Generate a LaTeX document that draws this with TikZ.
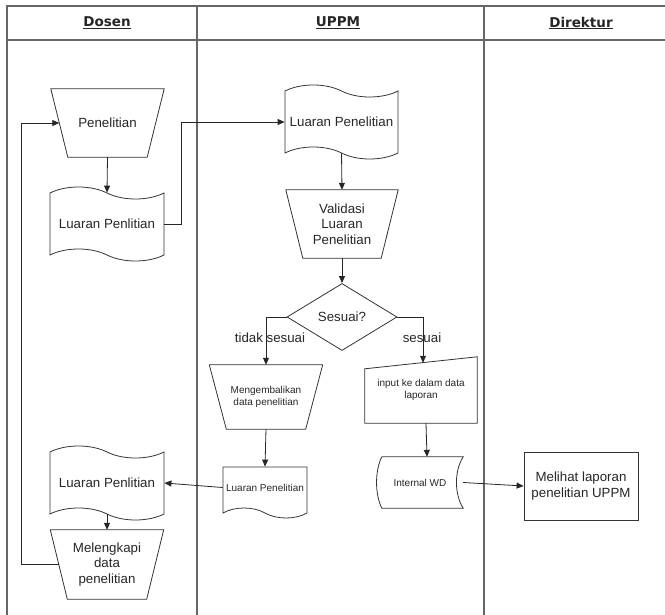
\documentclass[tikz,border=0pt]{standalone}
\usepackage{fontspec}
\setmainfont{Liberation Sans}
\newfontfamily\headfont{DejaVu Sans}
\usetikzlibrary{shapes.geometric,shapes.symbols,arrows.meta}

\tikzset{
  lane/.style={draw=black!60, line width=1.1pt},
  shp/.style={draw=black!80, line width=0.8pt},
  body/.style={font=\fontsize{13.3}{15.5}\selectfont, text=black!85},
  small/.style={font=\fontsize{10}{12.5}\selectfont, text=black!85},
  hd/.style={font=\headfont\bfseries\fontsize{13.5}{15}\selectfont, text=black!85},
  manop/.style={body, minimum width=113pt, minimum height=68pt, inner sep=0pt, align=center},
  tapebox/.style={shp, body, tape, tape bend top=out and in, tape bend bottom=out and in,
    minimum width=114pt, minimum height=74pt, tape bend height=12pt, inner sep=1pt},
  arr/.style={-{Triangle[length=7pt,width=6pt]}, draw=black!85, line width=0.8pt},
}
% outline of a manual operation (wide top) round a node
\newcommand{\manopline}[1]{%
  \draw[shp] (#1.north west) -- (#1.north east) -- ([xshift=-17pt]#1.south east)
    -- ([xshift=17pt]#1.south west) -- cycle;}

\begin{document}
\begin{tikzpicture}[x=1pt, y=-1pt]
    \useasboundingbox (0,0) rectangle (665,615);

    % Swimlanes
    \draw[lane] (7,620) -- (7,6) -- (670,6);
    \draw[lane] (7,40) -- (670,40);
    \draw[lane] (197,6) -- (197,620);
    \draw[lane] (484,6) -- (484,620);
    \node[hd] (hdosen) at (107,23) {\underline{Dosen}};
    \node[hd] (huppm) at (338,23) {\underline{UPPM}};
    \node[hd] (hdir) at (581,23) {\underline{Direktur}};

    % Dosen
    \node[manop] (pen) at (107.5,123) {Penelitian};
    \manopline{pen}
    \node[tapebox] (lp1) at (107,224) {Luaran Penlitian};
    \node[tapebox] (lp4) at (107,483) {Luaran Penlitian};
    \node[manop, minimum height=69pt] (mlk) at (107,564.5) {Melengkapi\\data\\penelitian};
    \manopline{mlk}

    % UPPM
    \node[tapebox, minimum width=113pt] (lp2) at (341.5,122) {Luaran Penelitian};
    \node[manop, minimum width=112pt] (val) at (342,224) {Validasi\\Luaran\\Penelitian};
    \manopline{val}
    \node[shp, body, diamond, aspect=1.64, minimum width=110pt, minimum height=67pt,
      inner sep=0pt] (ses) at (342,317) {Sesuai?};
    \node[manop, small, minimum height=64pt] (mgb) at (266,397) {Mengembalikan\\data penelitian};
    \manopline{mgb}
    \node[small, align=center, minimum width=112pt, minimum height=66pt, inner sep=0pt]
      (inp) at (421,390) {input ke dalam data\\laporan};
    \draw[shp] ([yshift=-12pt]inp.north west) -- (inp.north east) -- (inp.south east)
      -- (inp.south west) -- cycle;
    \node[shp, small, tape, tape bend top=none, tape bend bottom=out and in,
      minimum width=84pt, minimum height=51pt, tape bend height=10pt, inner sep=1pt]
      (lp3) at (265,487.5) {Luaran Penelitian};
    \node[small, minimum width=86pt, minimum height=51pt, inner sep=0pt]
      (iwd) at (420,482.5) {Internal WD};
    \draw[shp] ([xshift=5pt]iwd.north west) -- (iwd.north east)
      .. controls +(-9pt,-14pt) and +(-9pt,14pt) .. (iwd.south east)
      -- ([xshift=5pt]iwd.south west)
      .. controls +(-7pt,14pt) and +(-7pt,-14pt) .. ([xshift=5pt]iwd.north west);

    % Direktur
    \node[shp, body, align=center, minimum width=114pt, minimum height=68pt]
      (mel) at (581,486) {Melihat laporan\\penelitian UPPM};

    % Labels of the decision
    \node[body] (ltidak) at (270,338) {tidak sesuai};
    \node[body] (lsesuai) at (422,338) {sesuai};

    % Connectors
    \draw[arr] (pen.south) -- (lp1.north);
    \draw[arr] (lp1.east) -- ++(17,0) |- (lp2.west);
    \draw[arr] (lp2.south) -- (val.north);
    \draw[arr] (val.south) -- (ses.north);
    \draw[arr] (ses.west) -| (mgb.north);
    \draw[arr] (ses.east) -| ([xshift=2pt,yshift=-6pt]inp.north);
    \draw[arr] (mgb.south) -- (lp3.north);
    \draw[arr] ([xshift=5pt]inp.south) -- ([xshift=7pt]iwd.north);
    \draw[arr] (iwd.east) -- (mel.west);
    \draw[arr] (lp3.west) -- (lp4.east);
    \draw[arr] (lp4.south) -- (mlk.north);
    \draw[arr] ([xshift=8.5pt]mlk.west) -- ++(-37,0) |- ([xshift=8.5pt]pen.west);
\end{tikzpicture}
\end{document}
